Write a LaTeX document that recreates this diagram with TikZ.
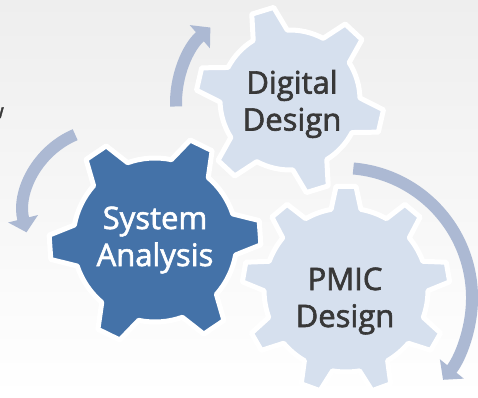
\documentclass[tikz,border=0pt]{standalone}
\usepackage{fontspec}
\newfontfamily\gearfont{Open Sans}[FakeBold=2]
\usetikzlibrary{arrows.meta}
\definecolor{saBlue}{RGB}{68,114,168}
\definecolor{gearLight}{RGB}{214,224,238}
\definecolor{arrowBlue}{RGB}{172,185,211}
\definecolor{darkText}{RGB}{56,56,56}
\definecolor{bgTop}{RGB}{238,238,238}
\tikzset{
  gearSA/.style={fill=saBlue, draw=white, line width=5pt, line join=round},
  gearLt/.style={fill=gearLight, draw=white, line width=5pt, line join=round},
  cycarrow/.style={draw=arrowBlue, line width=12pt, -{Triangle[width=30pt,length=14pt]}},
  gearlabel/.style={font=\gearfont\fontsize{31}{37}\selectfont, align=center, text=darkText, inner sep=0pt},
}
% style, cx, cy, n, r1, r2, offset, base half-angle, tip half-angle
\newcommand\mygear[9]{%
  \pgfmathsetmacro\gstep{360/#4}%
  \pgfmathtruncatemacro\glast{#4-1}%
  \begin{scope}[shift={(#2,#3)}]
  \path[#1] ({#7-#8}:#5)
    \foreach \k in {0,...,\glast}{
      -- ({#7+\k*\gstep-#9}:#6) -- ({#7+\k*\gstep+#9}:#6) -- ({#7+\k*\gstep+#8}:#5)
      arc[start angle={#7+\k*\gstep+#8}, end angle={#7+(\k+1)*\gstep-#8}, radius=#5]
    } -- cycle;
  \end{scope}}
\begin{document}
\begin{tikzpicture}[x=1pt,y=1pt]
\useasboundingbox (0,0) rectangle (478,397);
\shade[top color=bgTop, bottom color=white] (0,0) rectangle (478,397);
\node[font=\gearfont\fontsize{20}{20}\selectfont, text=darkText, anchor=base east, inner sep=0pt] (wfrag) at (4,279) {w};
% arrows
\draw[cycarrow] (108,185) ++(113:84) arc[start angle=113, end angle=194, radius=84];
\draw[cycarrow] (276,294) ++(182:100) arc[start angle=182, end angle=131, radius=100];
\draw[cycarrow] (342,99) ++(85:130) arc[start angle=85, end angle=-39, radius=130];
% gears
\mygear{gearLt}{346}{107}{9}{82}{104}{90}{10.5}{5.5}
\mygear{gearLt}{290}{297}{6}{70}{94}{-13}{14.7}{7}
\mygear{gearSA}{155}{157}{6}{82}{106}{4}{14.5}{6.6}
% labels
\node[gearlabel] (dd) at (292,293) {Digital\\Design};
\node[gearlabel] (pmic) at (345,96) {PMIC\\Design};
\node[gearlabel, text=white] (sa) at (155,157) {System\\Analysis};
\end{tikzpicture}
\end{document}
